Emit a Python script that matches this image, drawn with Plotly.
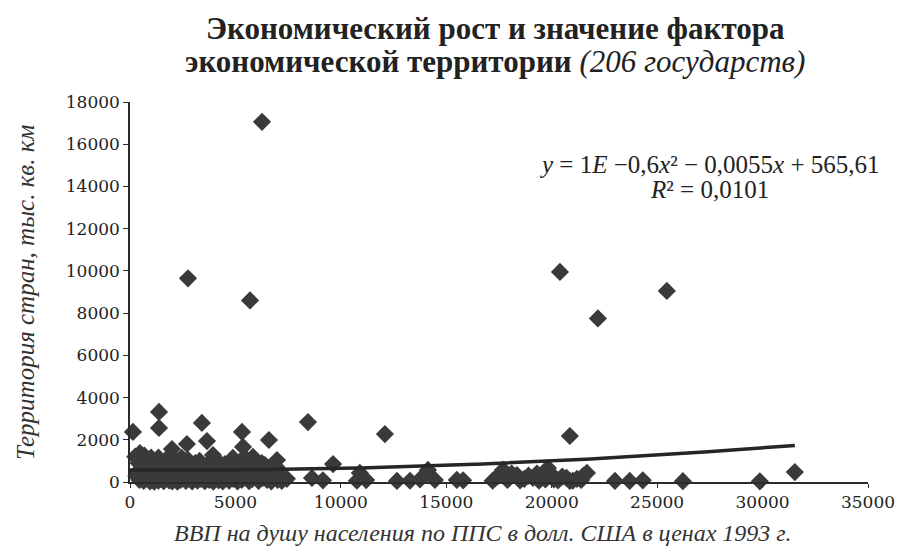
import numpy as np
import plotly.graph_objects as go

# ---- data ----
# outliers and sparse points
gdp_sparse = [6260, 2750, 5690, 20390, 25460, 22190, 20860, 12090, 8440, 140,
              1375, 1375, 3410, 3650, 2700, 1990, 5310, 5360, 6590, 9630,
              14130, 6970, 2450, 3935, 4880, 5830, 470]
area_sparse = [17060, 9650, 8600, 9950, 9050, 7750, 2180, 2270, 2840, 2370,
               3320, 2560, 2800, 1940, 1800, 1560, 2370, 1660, 1990, 850,
               570, 1040, 1140, 1280, 1140, 1190, 1370]

# right-hand low points
gdp_right = [14460, 15500, 15800, 17400, 17690, 17200, 18350, 18700, 19110, 19400,
             19820, 19600, 20100, 20500, 20860, 21200, 21670, 23000, 23700, 24320,
             26220, 29870, 31530, 8630, 9150, 10900, 10760, 12660, 13280, 13750,
             17900, 18100, 18500, 18900, 19300, 19700, 20000, 20300, 20700, 21000,
             21400, 21500, 7440, 7200, 11200]
area_right = [100, 100, 80, 240, 570, 60, 330, 150, 190, 60,
              660, 300, 120, 250, 50, 150, 430, 50, 50, 80,
              40, 30, 470, 190, 80, 430, 60, 50, 60, 120,
              100, 400, 80, 300, 400, 120, 350, 80, 200, 60,
              100, 300, 150, 100, 90]

# dense cluster of low-income countries
gdp_cluster = [250, 300, 400, 450, 500, 550, 600, 650, 700, 750, 800, 850, 900, 950,
               1000, 1050, 1100, 1150, 1200, 1250, 1300, 1350, 1400, 1450, 1500, 1550,
               1600, 1650, 1700, 1750, 1800, 1850, 1900, 1950, 2000, 2050, 2100, 2150,
               2200, 2250, 2300, 2350, 2400, 2500, 2550, 2600, 2650, 2700, 2800, 2850,
               2900, 2950, 3000, 3050, 3100, 3200, 3250, 3300, 3350, 3400, 3500, 3550,
               3600, 3700, 3750, 3800, 3900, 3950, 4000, 4100, 4150, 4200, 4300, 4350,
               4400, 4500, 4600, 4650, 4700, 4800, 4850, 4900, 5000, 5100, 5200, 5250,
               5300, 5400, 5500, 5600, 5650, 5700, 5800, 5900, 6000, 6100, 6200, 6300,
               6400, 6500, 6600, 6700, 6800, 6900, 7000, 7100, 7200,
               350, 1000, 1700, 2300, 2900, 3600, 4300, 5000, 5700, 6400,
               680, 1350, 2050, 2750, 3450, 4150, 4850, 5550, 6250, 6950]
area_cluster = [1200, 300, 900, 100, 600, 1100, 200, 50, 800, 400, 1000, 150, 650, 30,
                1150, 350, 700, 20, 500, 900, 250, 60, 1000, 400, 150, 750,
                40, 550, 1050, 200, 650, 80, 900, 300, 30, 1100, 500, 150,
                700, 20, 400, 950, 100, 600, 250, 1000, 50, 450, 800, 120,
                350, 30, 650, 200, 900, 60, 500, 1000, 150, 300, 700, 40,
                450, 850, 100, 300, 600, 20, 950, 250, 500, 80, 700, 300,
                30, 850, 200, 550, 60, 400, 900, 150, 650, 30, 300, 1000,
                100, 550, 250, 800, 40, 400, 150, 900, 300, 50, 600, 200,
                800, 100, 450, 30, 250, 600, 100, 350, 50,
                450, 250, 350, 600, 500, 200, 450, 350, 550, 300,
                1250, 1150, 900, 1050, 750, 1000, 650, 1050, 900, 700]

# polynomial trend (coefficients of the fitted curve, quadratic term unrounded)
trend_coef = [1.35e-6, -0.0055, 565.61]
trend_x_range = [0, 31530]

x_ticks = [0, 5000, 10000, 15000, 20000, 25000, 30000, 35000]
y_ticks = [0, 2000, 4000, 6000, 8000, 10000, 12000, 14000, 16000, 18000]

gdp = gdp_sparse + gdp_right + gdp_cluster
area = area_sparse + area_right + area_cluster

tx = np.linspace(trend_x_range[0], trend_x_range[1], 200)
ty = np.polyval(trend_coef, tx)

SERIF = "Liberation Serif"
TICKF = "DejaVu Serif"
INK = "#2b2b2b"

W, H = 907, 556
L, R, T, B = 122, 47, 94, 82
PW = W - L - R
PH = H - T - B


def ypx(py):
    """paper y for a figure pixel row"""
    return (H - B - py) / PH


def xpx(px):
    """paper x for a figure pixel column"""
    return (px - L) / PW


fig = go.Figure()
fig.add_trace(go.Scatter(
    x=gdp, y=area, mode="markers",
    marker=dict(symbol="diamond", size=14, color="#3a3a3a", line=dict(width=0)),
    cliponaxis=False, showlegend=False,
))
fig.add_trace(go.Scatter(
    x=tx, y=ty, mode="lines", line=dict(color="#262626", width=3.5),
    cliponaxis=False, showlegend=False,
))

fig.update_layout(
    width=W, height=H,
    margin=dict(l=L, r=R, t=T, b=B, autoexpand=False),
    paper_bgcolor="white", plot_bgcolor="white",
    font=dict(family=SERIF, color=INK),
    showlegend=False,
    annotations=[
        dict(text="<b>Экономический рост и значение фактора</b>", x=xpx(487), y=ypx(20),
             xref="paper", yref="paper", yanchor="middle", showarrow=False,
             font=dict(size=31, family=SERIF, color="#222")),
        dict(text="<b>экономической территории</b> <i>(206 государств)</i>", x=xpx(487), y=ypx(53),
             xref="paper", yref="paper", yanchor="middle", showarrow=False,
             font=dict(size=31, family=SERIF, color="#222")),
        dict(text="<i>y</i> = 1<i>E</i> −0,6<i>x</i>² − 0,0055<i>x</i> + 565,61",
             x=27500, y=15050, xref="x", yref="y", yanchor="middle", showarrow=False,
             font=dict(size=25, family=SERIF, color="#222")),
        dict(text="<i>R</i>² = 0,0101", x=27500, y=13850, xref="x", yref="y",
             yanchor="middle", showarrow=False,
             font=dict(size=25, family=SERIF, color="#222")),
        dict(text="<i>ВВП на душу населения по ППС в долл. США в ценах 1993 г.</i>",
             x=xpx(474), y=ypx(525), xref="paper", yref="paper", yanchor="middle", showarrow=False,
             font=dict(size=24, family=SERIF, color="#333")),
        dict(text="<i>Территория стран, тыс. кв. км</i>",
             x=xpx(17), y=ypx(285), xref="paper", yref="paper",
             xanchor="center", yanchor="middle", textangle=-90, showarrow=False,
             font=dict(size=25, family=SERIF, color="#333")),
    ],
)

fig.update_xaxes(
    range=[0, 35000], tickvals=x_ticks, ticktext=[str(v) for v in x_ticks],
    showgrid=False, zeroline=False, showline=True, linecolor=INK, linewidth=1.5,
    ticks="outside", ticklen=4, tickcolor=INK, tickwidth=1.2, automargin=False,
    tickfont=dict(size=17, family=TICKF, color="#222"),
)
fig.update_yaxes(
    range=[0, 18000], tickvals=y_ticks, ticktext=[str(v) for v in y_ticks],
    showgrid=False, zeroline=False, showline=True, linecolor=INK, linewidth=1.5,
    ticks="outside", ticklen=5, tickcolor=INK, tickwidth=1.2, automargin=False,
    tickfont=dict(size=17, family=TICKF, color="#222"),
)

fig.write_html("out.html")
